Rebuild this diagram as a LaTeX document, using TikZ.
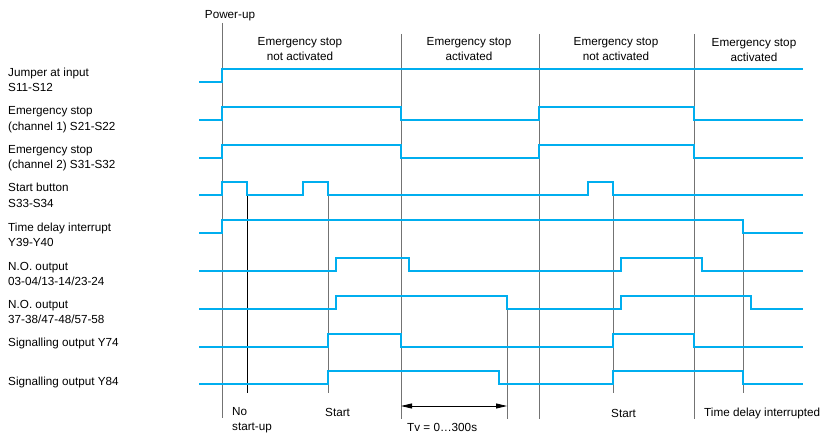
\documentclass[tikz,border=0pt]{standalone}
\usepackage{fontspec}
\setmainfont{Liberation Sans}
\usepackage{tikz}
\usetikzlibrary{positioning,arrows.meta,calc}

\definecolor{tracecyan}{RGB}{0,174,239}

\begin{document}
\begin{tikzpicture}[
  x=1pt,y=-1pt,
  signal/.style={line width=1.6pt,tracecyan,line join=miter},
  marker/.style={line width=0.8pt,black!55},
  thinmark/.style={line width=0.5pt,black},
  rowlabel/.style={anchor=west,align=left,inner sep=0pt,font=\fontsize{11.7}{15.5}\selectfont},
  phaselabel/.style={align=center,inner sep=0pt,font=\fontsize{11.7}{15}\selectfont},
  eventlabel/.style={anchor=west,align=left,inner sep=0pt,font=\fontsize{11.7}{15}\selectfont},
  dimarrow/.style={{Triangle[length=11pt,width=5pt]}-{Triangle[length=11pt,width=5pt]},line width=0.8pt},
]
\useasboundingbox (0,0) rectangle (822,433);

% === PHASE BOUNDARIES ===
\draw[marker] (222,23) -- (222,418);
\draw[marker] (401,34) -- (401,419);
\draw[marker] (539,34) -- (539,419);
\draw[marker] (694,34) -- (694,419);

% event markers
\draw[thinmark] (247,195) -- (247,393);
\draw[marker] (328,195) -- (328,393);
\draw[marker] (507,296) -- (507,419);
\draw[marker] (613,195) -- (613,393);
\draw[marker] (743,220) -- (743,393);

% === PHASE LABELS ===
\node[phaselabel] (powerup) at (230,16) {Power-up};
\node[phaselabel] (phase1) at (300,49.5) {Emergency stop\\not activated};
\node[phaselabel] (phase2) at (469,49.5) {Emergency stop\\activated};
\node[phaselabel] (phase3) at (616,49.5) {Emergency stop\\not activated};
\node[phaselabel] (phase4) at (754,50.5) {Emergency stop\\activated};

% === ROW LABELS ===
\node[rowlabel] (jumper) at (8,80) {Jumper at input\\S11-S12};
\node[rowlabel] (chan1) at (8,119.5) {Emergency stop\\(channel 1) S21-S22};
\node[rowlabel] (chan2) at (8,158) {Emergency stop\\(channel 2) S31-S32};
\node[rowlabel] (startbtn) at (8,195.5) {Start button\\S33-S34};
\node[rowlabel] (tdint) at (8,235) {Time delay interrupt\\Y39-Y40};
\node[rowlabel] (noA) at (8,274) {N.O. output\\03-04/13-14/23-24};
\node[rowlabel] (noB) at (8,312) {N.O. output\\37-38/47-48/57-58};
\node[rowlabel] (sigA) at (8,343) {Signalling output Y74};
\node[rowlabel] (sigB) at (8,382) {Signalling output Y84};

% === SIGNAL TRACES ===
\draw[signal] (199,82) -- (222,82) -- (222,69) -- (803,69);
\draw[signal] (199,120) -- (222,120) -- (222,107) -- (401,107) -- (401,120)
  -- (539,120) -- (539,107) -- (694,107) -- (694,120) -- (803,120);
\draw[signal] (199,158) -- (222,158) -- (222,145) -- (401,145) -- (401,158)
  -- (539,158) -- (539,145) -- (694,145) -- (694,158) -- (803,158);
\draw[signal] (199,195) -- (222,195) -- (222,182) -- (247,182) -- (247,195)
  -- (303,195) -- (303,182) -- (328,182) -- (328,195)
  -- (588,195) -- (588,182) -- (613,182) -- (613,195) -- (803,195);
\draw[signal] (199,233) -- (222,233) -- (222,220) -- (743,220) -- (743,233) -- (803,233);
\draw[signal] (199,271) -- (336,271) -- (336,258) -- (409,258) -- (409,271)
  -- (621,271) -- (621,258) -- (702,258) -- (702,271) -- (803,271);
\draw[signal] (199,309) -- (336,309) -- (336,296) -- (507,296) -- (507,309)
  -- (621,309) -- (621,296) -- (751,296) -- (751,309) -- (803,309);
\draw[signal] (199,347) -- (328,347) -- (328,334) -- (401,334) -- (401,347)
  -- (613,347) -- (613,334) -- (694,334) -- (694,347) -- (803,347);
\draw[signal] (199,384) -- (328,384) -- (328,371) -- (499,371) -- (499,384)
  -- (613,384) -- (613,371) -- (743,371) -- (743,384) -- (803,384);

% === EVENT LABELS ===
\node[eventlabel] (nostart) at (232,420) {No\\start-up};
\node[eventlabel] (start1) at (325,412) {Start};
\node[eventlabel] (start2) at (611,413) {Start};
\node[eventlabel] (tdlabel) at (704,413) {Time delay interrupted};

% delay time Tv
\coordinate (tvA) at (401,406);
\coordinate (tvB) at (507,406);
\draw[dimarrow] (tvA) -- (tvB);
\node[eventlabel] (tvlabel) at (407,427.5) {Tv = 0…300s};

\end{tikzpicture}
\end{document}
